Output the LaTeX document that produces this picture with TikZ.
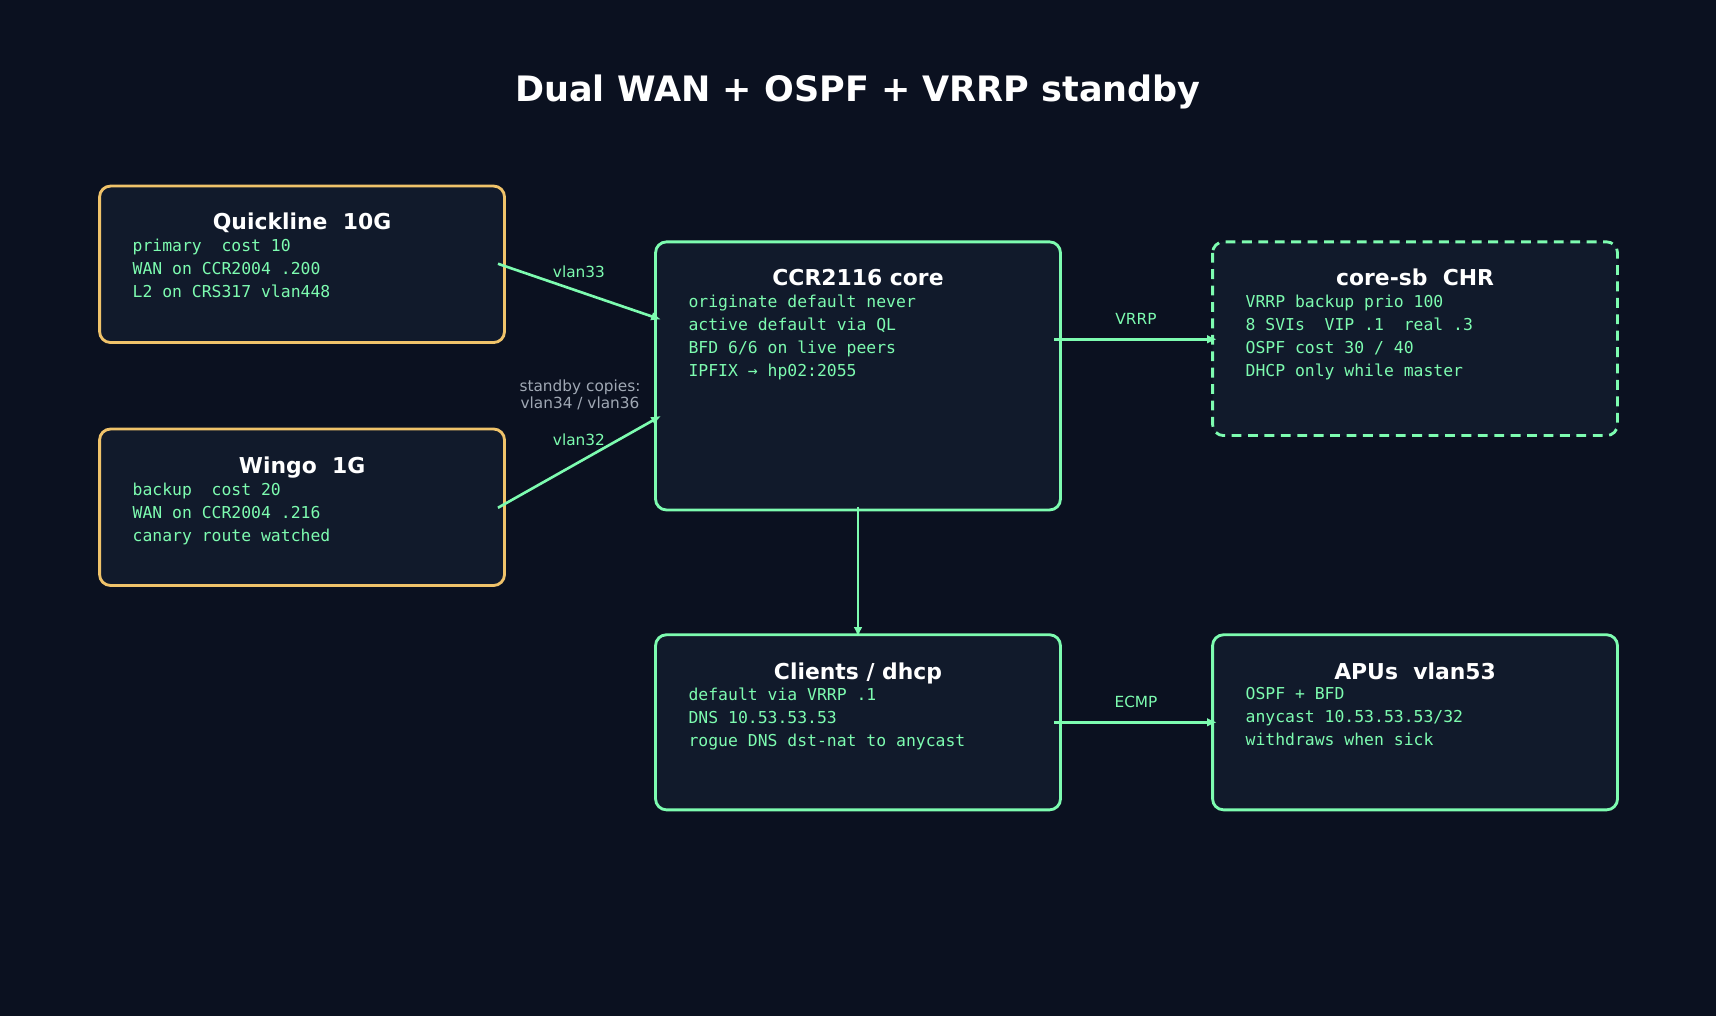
\documentclass[tikz,border=0pt]{standalone}
\usepackage{fontspec}
\setmainfont{DejaVu Sans}
\newfontfamily\monof{DejaVu Sans Mono}
\usetikzlibrary{arrows.meta}
\definecolor{bg}{HTML}{0B1120}
\definecolor{boxf}{HTML}{111A2B}
\definecolor{org}{HTML}{F0C36A}
\definecolor{grn}{HTML}{7DFCB0}
\definecolor{gry}{HTML}{A0A8B4}
\begin{document}
\begin{tikzpicture}[x=1pt,y=-1pt,
 box/.style={draw=#1,line width=2.6pt,fill=boxf,rounded corners=10pt},
 ttl/.style={text=white,font=\fontsize{20}{24}\selectfont\bfseries,anchor=base},
 body/.style={text=grn,font=\monof\fontsize{15}{21}\selectfont,anchor=north west,align=left,inner sep=0pt},
 con/.style={grn,line width=2.4pt,-{Latex[length=9pt,width=8pt]}},
 lbl/.style={text=grn,font=\fontsize{14}{16}\selectfont}]
\fill[bg] (0,0) rectangle (1568,928);
\useasboundingbox (0,0) rectangle (1568,928);
\node[text=white,font=\fontsize{32}{36}\selectfont\bfseries] (title) at (784,84) {Dual WAN + OSPF + VRRP standby};
% boxes
\draw[box=org] (91,170) rectangle (461,313);
\node[ttl] (t1) at (276,210) {Quickline\ \ 10G};
\node[body] (b1) at (121,218) {primary\ \ cost 10\\WAN on CCR2004 .200\\L2 on CRS317 vlan448};
\draw[box=org] (91,392) rectangle (461,535);
\node[ttl] (t2) at (276,433) {Wingo\ \ 1G};
\node[body] (b2) at (121,441) {backup\ \ cost 20\\WAN on CCR2004 .216\\canary route watched};
\draw[box=grn] (599,221) rectangle (969,466);
\node[ttl] (t3) at (784,261) {CCR2116 core};
\node[body] (b3) at (629,269) {originate default never\\active default via QL\\BFD 6/6 on live peers\\IPFIX → hp02:2055};
\draw[box=grn,dashed,dash pattern=on 9pt off 6pt] (1108,221) rectangle (1478,398);
\node[ttl] (t4) at (1293,261) {core-sb\ \ CHR};
\node[body] (b4) at (1138,269) {VRRP backup prio 100\\8 SVIs\ \ VIP .1\ \ real .3\\OSPF cost 30 / 40\\DHCP only while master};
\draw[box=grn] (599,580) rectangle (969,740);
\node[ttl] (t5) at (784,621) {Clients / dhcp};
\node[body] (b5) at (629,628) {default via VRRP .1\\DNS 10.53.53.53\\rogue DNS dst-nat to anycast};
\draw[box=grn] (1108,580) rectangle (1478,740);
\node[ttl] (t6) at (1293,621) {APUs\ \ vlan53};
\node[body] (b6) at (1138,628) {OSPF + BFD\\anycast 10.53.53.53/32\\withdraws when sick};
% connector endpoints
\coordinate (q) at (455,241); \coordinate (cq) at (604,292);
\coordinate (w) at (455,464); \coordinate (cw) at (604,380);
\coordinate (cr) at (963,310); \coordinate (sb) at (1112,310);
\coordinate (cb) at (784,463); \coordinate (cl) at (784,582);
\coordinate (clr) at (963,660); \coordinate (ap) at (1112,660);
\draw[con] (q) -- (cq);
\draw[con] (w) -- (cw);
\draw[con] (cr) -- (sb);
\draw[con] (cb) -- (cl);
\draw[con] (clr) -- (ap);
\node[lbl] (l1) at (529,248) {vlan33};
\node[lbl] (l2) at (529,402) {vlan32};
\node[text=gry,font=\fontsize{14}{15}\selectfont,align=center] (l3) at (530,361) {standby copies:\\vlan34 / vlan36};
\node[lbl] (l4) at (1038,291) {VRRP};
\node[lbl] (l5) at (1038,641) {ECMP};
\end{tikzpicture}
\end{document}
